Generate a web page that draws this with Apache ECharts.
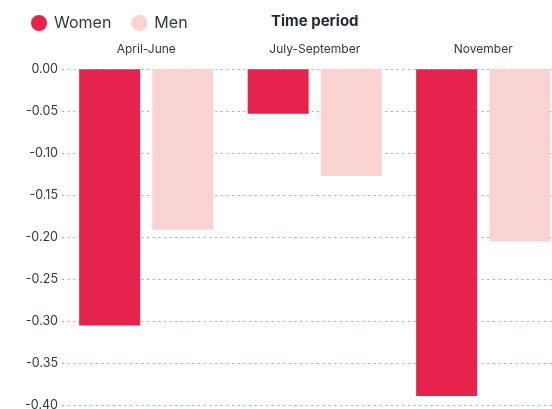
<!DOCTYPE html>
<html>
<head>
<meta charset="utf-8">
<script src="https://cdn.jsdelivr.net/npm/echarts@6/dist/echarts.min.js"></script>
<style>
  html, body { margin: 0; padding: 0; background: #fff; }
  #mainCanvas { width: 552px; height: 409px; }
</style>
</head>
<body>
<div id="mainCanvas"></div>
<script>
var categories = ["April-June", "July-September", "November"];
var women = [-0.305, -0.053, -0.389];
var men = [-0.191, -0.127, -0.205];
var yTicks = { min: -0.4, max: 0, step: 0.05 };

var myChart = echarts.init(document.getElementById("mainCanvas"));
var font = "Inter, 'Noto Sans', sans-serif";

var option = {
    animation: false,
    legend: {
        left: 26,
        top: 10,
        icon: 'circle',
        itemWidth: 16,
        itemHeight: 16,
        itemGap: 20,
        data: ['Women', 'Men'],
        textStyle: { fontFamily: font, fontSize: 16, color: '#2e3a46', padding: [0, 0, 0, 2] }
    },
    grid: { left: 62, top: 69.3, width: 505.5, bottom: 3.7, outerBoundsMode: 'none', containLabel: false },
    xAxis: {
        type: 'category',
        position: 'top',
        data: categories,
        name: 'Time period',
        nameLocation: 'middle',
        nameGap: 40.5,
        nameTextStyle: { fontFamily: font, fontSize: 15, fontWeight: 'bold', color: '#1f2b38' },
        axisLine: { show: false },
        axisTick: { show: false },
        axisLabel: { margin: 14, fontFamily: font, fontSize: 12, color: '#2e3a46' }
    },
    yAxis: {
        type: 'value',
        min: yTicks.min,
        max: yTicks.max,
        interval: yTicks.step,
        axisLine: { show: false },
        axisTick: { show: false },
        axisLabel: {
            margin: 4,
            fontFamily: font,
            fontSize: 12.5,
            color: '#2e3a46',
            formatter: function (v) { return v.toFixed(2); }
        },
        splitLine: { lineStyle: { color: '#f08c96', width: 1, type: [2, 3.67] } }
    },
    series: [
        {
            name: 'Women',
            type: 'bar',
            data: women,
            barWidth: 61,
            barGap: '20%',
            itemStyle: { color: '#e6234c' }
        },
        {
            name: 'Men',
            type: 'bar',
            data: men,
            barWidth: 61,
            itemStyle: { color: '#f9d3d0' }
        }
    ]
};

myChart.setOption(option);
</script>
</body>
</html>
